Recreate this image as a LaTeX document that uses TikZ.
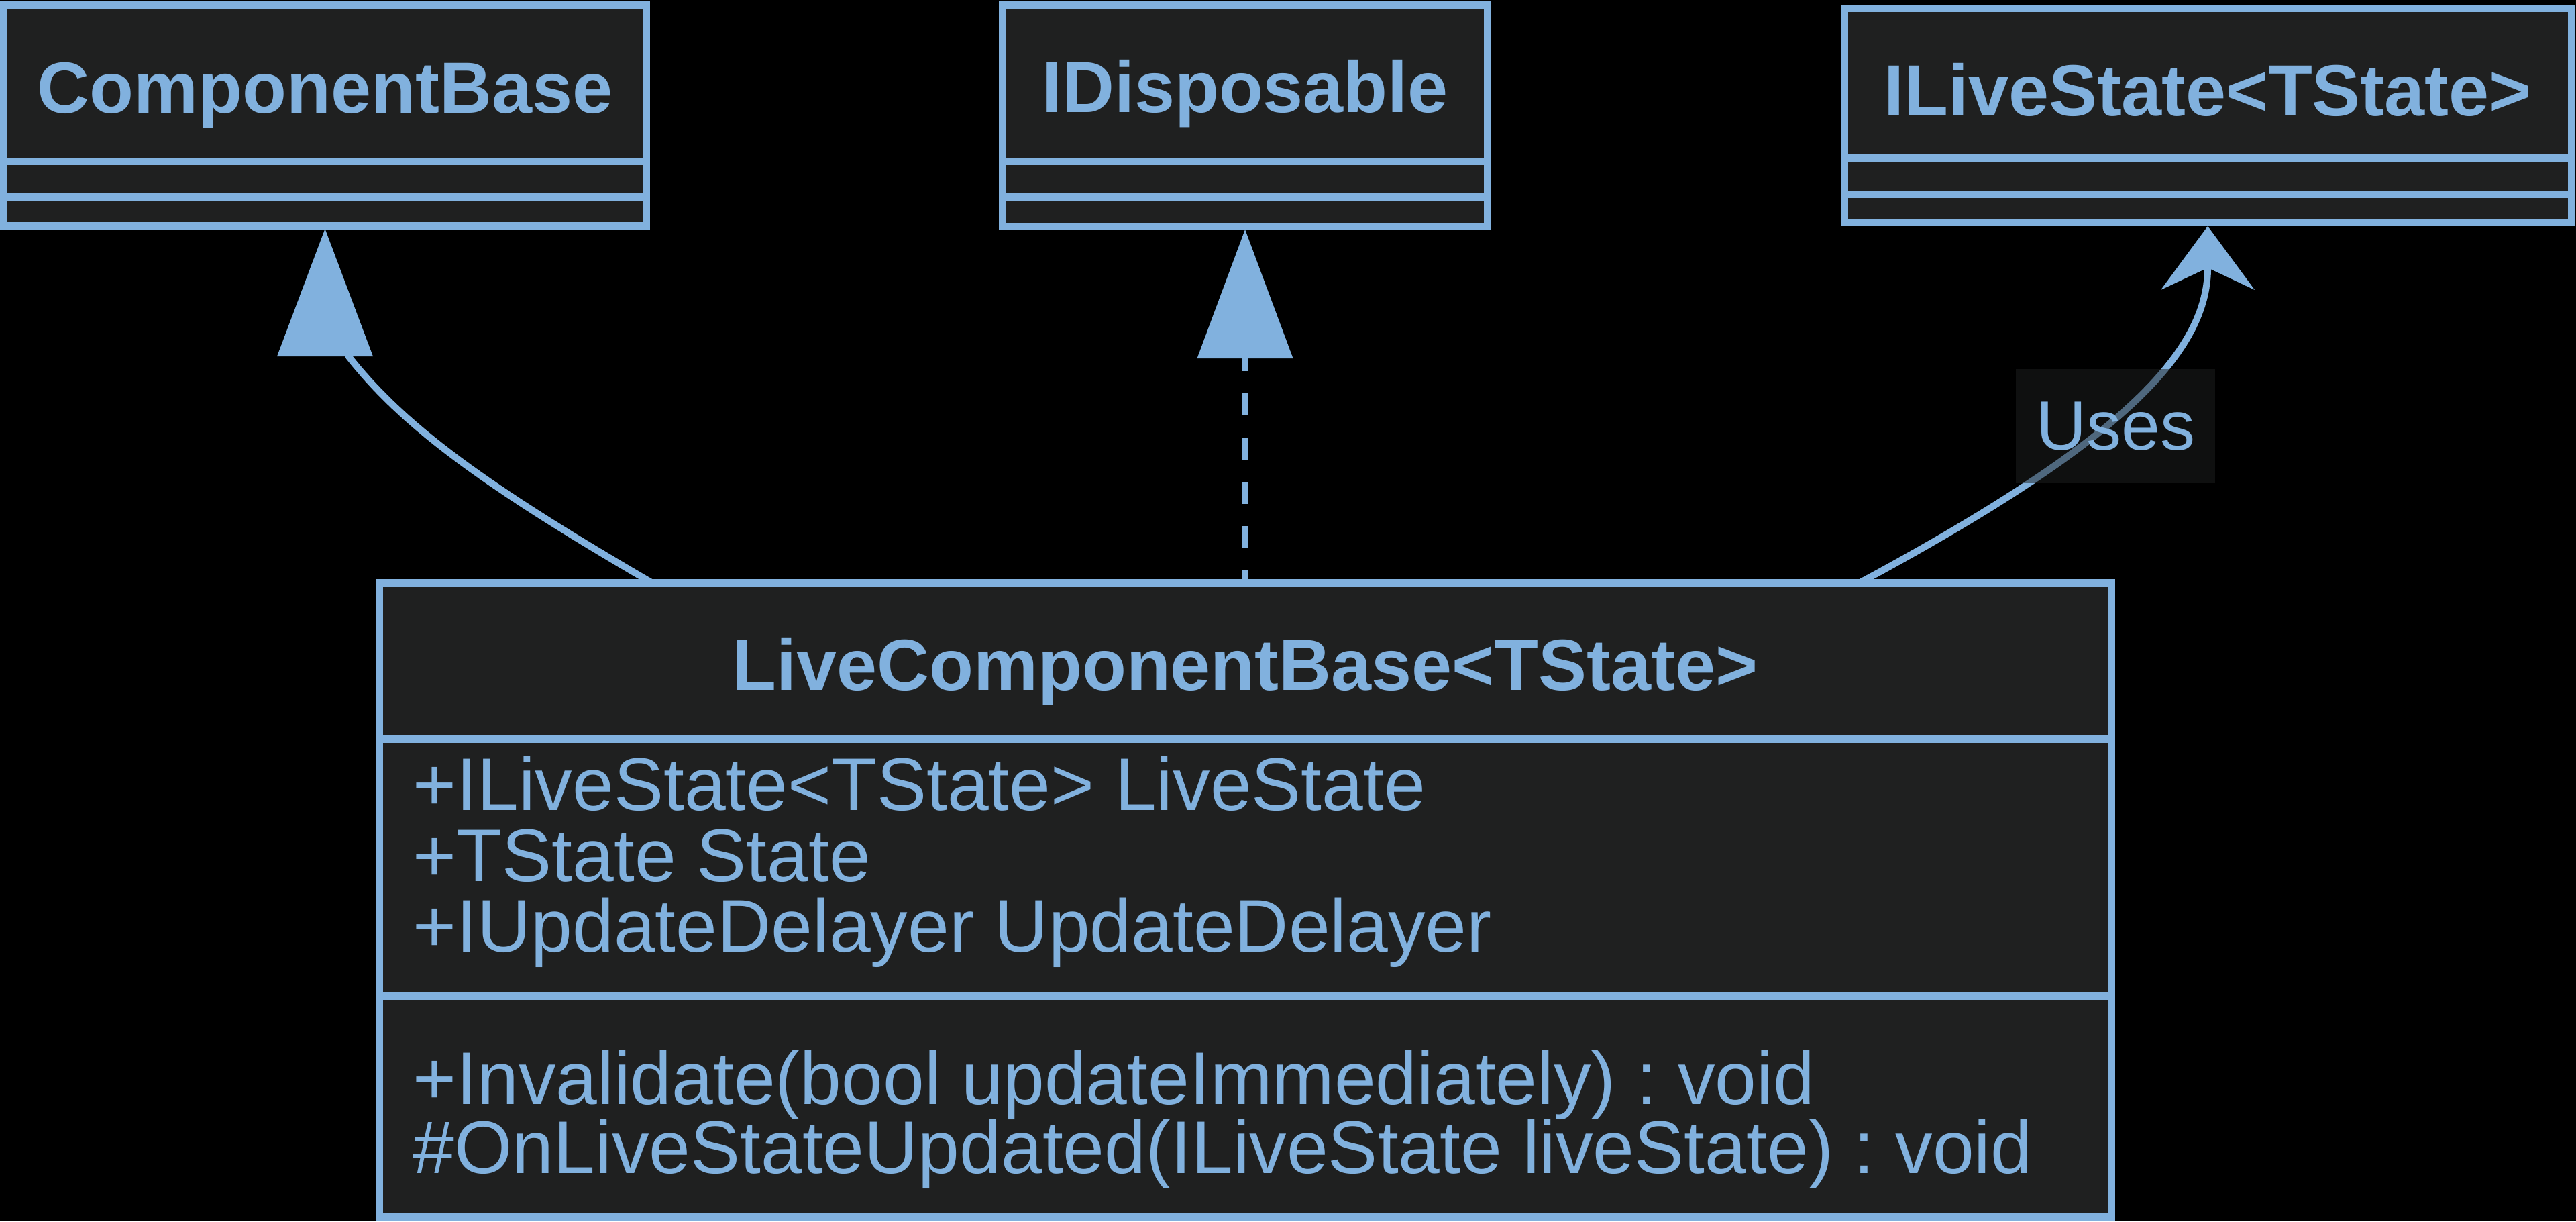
\documentclass[tikz,border=0pt]{standalone}
\usepackage{fontspec}
\setmainfont{Liberation Sans}
\usepackage{tikz}
\usetikzlibrary{arrows.meta,positioning,calc}
\definecolor{umlBlue}{RGB}{129,177,222}
\definecolor{umlFill}{RGB}{31,32,32}
\frenchspacing

\begin{document}
\begin{tikzpicture}[
        cls/.style={draw=umlBlue, fill=umlFill, line width=0.11cm, inner sep=0pt, outer sep=0pt},
        ttl/.style={font=\fontsize{30.7}{36}\selectfont\bfseries, text=umlBlue, anchor=base, inner sep=0pt},
        mbr/.style={font=\fontsize{31.6}{38}\selectfont, text=umlBlue, anchor=base west, inner sep=0pt},
        lbl/.style={font=\fontsize{29.6}{35}\selectfont, text=umlBlue, fill=umlFill, fill opacity=0.5, text opacity=1,
                    minimum width=2.97cm, minimum height=1.70cm, inner sep=0pt},
        conn/.style={draw=umlBlue, line width=0.10cm},
      ]
        % canvas
        \fill[black] (0,0) rectangle (38.4,-18.2);
        \useasboundingbox (0,0) rectangle (38.4,-18.2);

        % ComponentBase
        \node[cls, minimum width=9.57cm, minimum height=3.29cm] (cb) at (4.845,-1.715) {};
        \node[ttl] (cbTitle) at (4.845,-1.68) {ComponentBase};

        % IDisposable
        \node[cls, minimum width=7.23cm, minimum height=3.30cm] (idisp) at (18.56,-1.72) {};
        \node[ttl] (idispTitle) at (18.56,-1.67) {IDisposable};

        % ILiveState<TState>
        \node[cls, minimum width=10.84cm, minimum height=3.19cm] (ils) at (32.91,-1.715) {};
        \node[ttl] (ilsTitle) at (32.91,-1.72) {ILiveState<TState>};

        % LiveComponentBase<TState>
        \node[cls, minimum width=25.82cm, minimum height=9.45cm] (live) at (18.56,-13.405) {};
        \node[ttl] (liveTitle) at (18.56,-10.28) {LiveComponentBase<TState>};
        \node[mbr] (attr1) at (6.15,-12.07) {+ILiveState<TState> LiveState};
        \node[mbr] (attr2) at (6.15,-13.13) {+TState State};
        \node[mbr] (attr3) at (6.15,-14.18) {+IUpdateDelayer UpdateDelayer};
        \node[mbr] (meth1) at (6.15,-16.45) {+Invalidate(bool updateImmediately) : void};
        \node[mbr] (meth2) at (6.15,-17.48) {\#OnLiveStateUpdated(ILiveState liveState) : void};

        % compartment lines
        \foreach \b/\y in {cb/2.40, cb/2.93, idisp/2.40, idisp/2.93, ils/2.35, ils/2.89, live/11.01, live/14.84}
          \draw[umlBlue, line width=0.11cm] (\b.west |- 0,-\y) -- (\b.east |- 0,-\y);

        % inheritance -- ComponentBase
        \draw[conn] ([xshift=-8.85cm]live.north) .. controls +(-2.51,1.46) and +(0.82,-1.05) .. ([xshift=0.335cm,yshift=-1.93cm]cb.south);
        \fill[umlBlue] ([yshift=-0.05cm]cb.south) -- ++(-0.715,-1.90) -- ++(1.43,0) -- cycle;

        % realization -- IDisposable
        \draw[conn, dash pattern=on 0.33cm off 0.33cm, dash phase=0.15cm,
              -{Triangle[length=1.92cm, width=1.43cm, line width=0pt]}]
          (live.north) -- ([yshift=-0.05cm]idisp.south);

        % dependency -- ILiveState<TState>
        \draw[conn, -{Stealth[length=0.95cm, width=1.40cm, inset=0.33cm, line width=0pt]}]
          ([xshift=9.17cm]live.north) .. controls +(3.77,2.03) and +(0,-1.93) .. ([yshift=-0.06cm]ils.south);
        \node[lbl] (uses) at (31.535,-6.35) {Uses};
      \end{tikzpicture}
\end{document}
